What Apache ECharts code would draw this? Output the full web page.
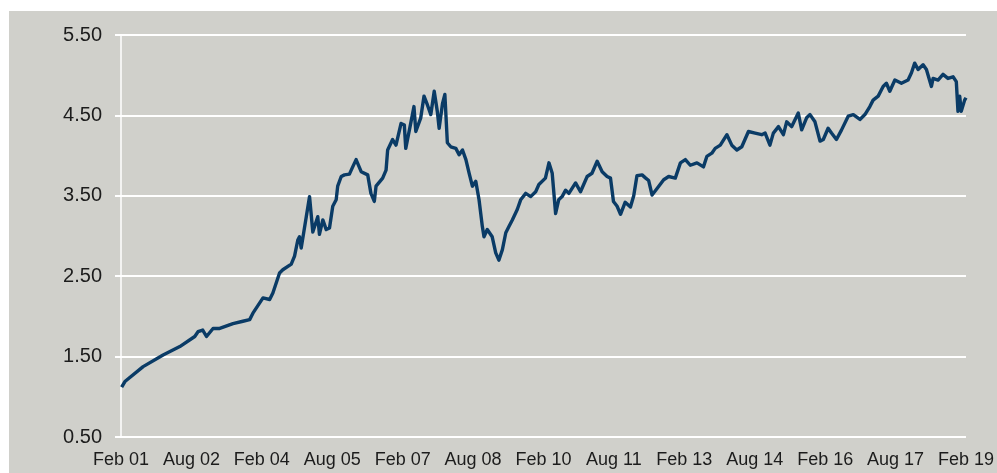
<!DOCTYPE html>
<html>
<head>
<meta charset="utf-8">
<script src="https://cdn.jsdelivr.net/npm/echarts@6/dist/echarts.min.js"></script>
<style>
  html, body { margin: 0; padding: 0; background: #ffffff; width: 997px; height: 473px; overflow: hidden; }
  #chart { position: absolute; left: 9px; top: 11px; width: 988px; height: 462px; }
</style>
</head>
<body>
<div id="chart"></div>
<script>
const dates = [
 '2001-02-06','2001-03-01','2001-07-21','2001-12-24','2002-05-02','2002-08-27','2002-09-22','2002-10-28','2002-11-27','2003-01-17',
 '2003-03-08','2003-06-20','2003-09-06','2003-10-28','2003-11-23','2004-02-10','2004-04-01','2004-04-26','2004-06-17','2004-07-12',
 '2004-09-17','2004-10-12','2004-11-07','2004-11-20','2004-12-03','2005-01-12','2005-02-07','2005-02-20','2005-03-02','2005-03-15',
 '2005-04-10','2005-04-23','2005-05-19','2005-06-15','2005-07-10','2005-08-05','2005-09-01','2005-09-13','2005-10-10','2005-11-05',
 '2005-12-13','2006-01-08','2006-02-04','2006-03-13','2006-05-03','2006-05-28','2006-06-24','2006-07-07','2006-08-28','2006-09-24',
 '2006-10-06','2006-11-14','2006-12-10','2007-01-19','2007-02-14','2007-02-25','2007-04-05','2007-04-28','2007-05-12','2007-06-20',
 '2007-07-15','2007-08-11','2007-09-07','2007-10-03','2007-10-27','2007-11-11','2007-12-07','2007-12-25','2008-01-14','2008-02-10',
 '2008-03-19','2008-04-14','2008-05-10','2008-06-06','2008-07-01','2008-07-26','2008-08-22','2008-09-17','2008-10-12','2008-10-25',
 '2008-11-20','2008-12-28','2009-01-25','2009-02-19','2009-03-16','2009-04-12','2009-05-07','2009-06-02','2009-07-10','2009-08-06',
 '2009-09-15','2009-10-23','2009-12-01','2009-12-26','2010-02-16','2010-03-13','2010-04-08','2010-05-04','2010-05-28','2010-06-24',
 '2010-07-21','2010-08-16','2010-10-07','2010-11-15','2011-01-06','2011-02-13','2011-03-23','2011-05-01','2011-06-09','2011-07-05',
 '2011-07-28','2011-08-26','2011-09-22','2011-10-28','2011-12-08','2012-01-03','2012-01-28','2012-03-07','2012-04-05','2012-04-28',
 '2012-05-24','2012-07-02','2012-08-23','2012-10-01','2012-11-22','2013-01-01','2013-02-09','2013-03-17','2013-05-08','2013-06-28',
 '2013-07-24','2013-09-02','2013-09-28','2013-11-07','2013-12-28','2014-02-05','2014-03-14','2014-04-22','2014-06-13','2014-08-04',
 '2014-09-25','2014-10-21','2014-11-28','2014-12-24','2015-02-03','2015-03-11','2015-04-06','2015-05-14','2015-07-05','2015-08-01',
 '2015-09-09','2015-10-05','2015-11-13','2015-12-22','2016-01-17','2016-02-24','2016-03-20','2016-04-28','2016-06-07','2016-07-28',
 '2016-09-07','2016-10-28','2016-12-06','2017-01-14','2017-02-09','2017-03-18','2017-04-26','2017-05-21','2017-06-17','2017-07-26',
 '2017-09-16','2017-11-07','2017-12-03','2017-12-28','2018-01-24','2018-03-02','2018-03-28','2018-05-06','2018-05-19','2018-06-27',
 '2018-08-05','2018-09-13','2018-10-22','2018-11-17','2018-11-30','2018-12-13','2018-12-25','2019-01-21','2019-02-01'
];
const values = [
 1.12,1.19,1.375,1.52,1.625,1.75,1.81,1.83,1.75,1.85,
 1.85,1.91,1.94,1.96,2.04,2.23,2.21,2.29,2.54,2.58,
 2.65,2.75,2.95,2.99,2.85,3.24,3.49,3.51,3.05,3.04,
 3.24,3.02,3.20,3.08,3.10,3.37,3.45,3.62,3.74,3.76,
 3.77,3.86,3.95,3.80,3.76,3.53,3.43,3.62,3.72,3.82,
 4.07,4.20,4.13,4.40,4.38,4.09,4.42,4.61,4.30,4.47,
 4.74,4.63,4.51,4.80,4.55,4.34,4.65,4.76,4.16,4.11,
 4.09,4.01,4.07,3.95,3.78,3.62,3.68,3.45,3.12,2.99,
 3.08,2.99,2.79,2.70,2.83,3.04,3.12,3.20,3.33,3.45,
 3.53,3.49,3.55,3.64,3.72,3.91,3.78,3.28,3.45,3.49,
 3.57,3.53,3.66,3.55,3.74,3.78,3.93,3.80,3.74,3.72,
 3.43,3.37,3.27,3.42,3.36,3.50,3.75,3.76,3.72,3.69,
 3.51,3.59,3.70,3.74,3.72,3.91,3.95,3.88,3.91,3.86,
 3.99,4.03,4.09,4.13,4.26,4.13,4.07,4.11,4.30,4.28,
 4.26,4.28,4.13,4.28,4.36,4.26,4.42,4.36,4.53,4.32,
 4.47,4.51,4.42,4.18,4.20,4.34,4.28,4.20,4.32,4.49,
 4.51,4.45,4.51,4.61,4.69,4.74,4.86,4.90,4.80,4.94,
 4.90,4.94,5.03,5.15,5.07,5.13,5.07,4.86,4.96,4.94,
 5.01,4.96,4.98,4.92,4.55,4.74,4.55,4.69,4.72
];
const xTickLabels = ['Feb 01','Aug 02','Feb 04','Aug 05','Feb 07','Aug 08','Feb 10','Aug 11','Feb 13','Aug 14','Feb 16','Aug 17','Feb 19'];
const yTicks = [0.5, 1.5, 2.5, 3.5, 4.5, 5.5];

// months elapsed since Feb 2001
function monthsSinceStart(d) {
  const [y, m, day] = d.split('-').map(Number);
  return (y - 2001) * 12 + (m - 2) + (day - 1) / 30.4;
}
const seriesData = dates.map((d, i) => [Math.min(216, monthsSinceStart(d)), values[i]]);

const chart = echarts.init(document.getElementById('chart'), null, { renderer: 'canvas' });
chart.setOption({
  backgroundColor: '#d0d0cb',
  animation: false,
  grid: { left: 112, right: 29, top: 24, bottom: 36, containLabel: false },
  xAxis: {
    type: 'value',
    min: 0,
    max: 216,
    interval: 18,
    axisLine: { show: false },
    axisTick: { show: false },
    splitLine: { show: false },
    axisLabel: {
      margin: 14,
      color: '#1c1c1c',
      fontFamily: 'Liberation Sans',
      fontSize: 18,
      showMinLabel: true,
      showMaxLabel: true,
      formatter: v => xTickLabels[Math.round(v / 18)] || ''
    }
  },
  yAxis: {
    type: 'value',
    min: yTicks[0],
    max: yTicks[yTicks.length - 1],
    interval: 1,
    axisLine: { show: true, lineStyle: { color: '#ffffff', width: 1.5 } },
    axisTick: { show: true, length: 6, lineStyle: { color: '#ffffff', width: 2 } },
    splitLine: { show: true, lineStyle: { color: '#ffffff', width: 2 } },
    axisLabel: {
      margin: 19,
      color: '#1c1c1c',
      fontFamily: 'Liberation Sans',
      fontSize: 20,
      formatter: v => v.toFixed(2)
    }
  },
  series: [{
    type: 'line',
    data: seriesData,
    showSymbol: false,
    symbol: 'none',
    lineStyle: { color: '#0a3b66', width: 3.4, join: 'round' },
    z: 3
  }]
});
</script>
</body>
</html>
